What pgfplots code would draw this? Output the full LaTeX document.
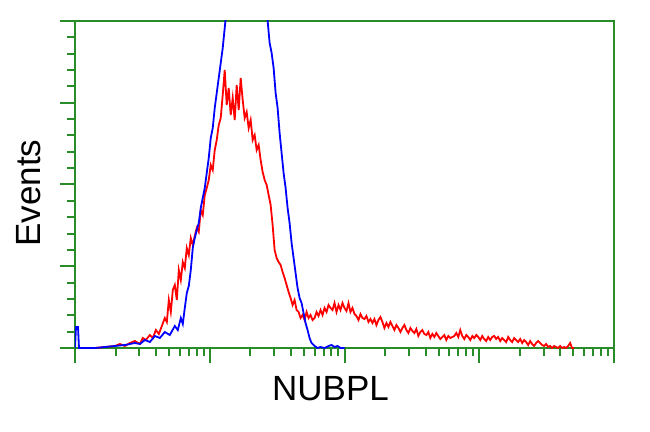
\documentclass[border=0pt]{standalone}
\usepackage{pgfplots}
\pgfplotsset{compat=1.18}
\usepackage{fontspec}
\setmainfont{Liberation Sans}
\definecolor{axgreen}{RGB}{40,140,40}
\begin{document}
\begin{tikzpicture}
\useasboundingbox (-75pt,-83pt) rectangle (575pt,348pt);
\begin{axis}[
  scale only axis, width=539pt, height=327pt,
  xmin=0, xmax=540, ymin=0, ymax=327,
  axis line style={axgreen, line width=2.2pt},
  every tick/.style={axgreen, line width=2pt},
  tick align=outside,
  xtick pos=bottom, ytick pos=left,
  xtick={0,135,270,405,540},
  minor xtick={40.64,64.41,81.28,94.36,105.05,114.08,121.92,128.82,
    175.64,199.41,216.28,229.36,240.05,249.08,256.92,263.82,
    310.64,334.41,351.28,364.36,375.05,384.08,391.92,398.82,
    445.64,469.41,486.28,499.36,510.05,519.08,526.92,533.82},
  ytick={0,81.75,163.5,245.25,327},
  minor y tick num=4,
  major tick length=15pt, minor tick length=7.5pt,
  xticklabels={}, yticklabels={},
  clip=true,
  every axis y label/.style={at={(axis description cs:-0.086,0.474)}, anchor=center, rotate=90, font=\fontsize{35}{40}\selectfont},
  every axis x label/.style={at={(axis description cs:0.474,-0.125)}, anchor=center, font=\fontsize{35}{40}\selectfont},
  ylabel={Events}, xlabel={NUBPL},
]
\addplot[red, line width=1.8pt] coordinates {
(20,0)(30,1)(40,2)(45,4)(50,2)(55,5)(60,7)(65,4)(68,10)(71,8)(75,13)(78,10)(81,18)(84,14)(87,22)(90,30)(92,26)(94,48)(96,36)(98,58)(100,63)(102,48)(104,78)(106,68)(108,86)(110,80)(112,100)(114,93)(116,110)(118,103)(120,112)(122,120)(124,116)(126,138)(128,133)(130,153)(132,160)(134,168)(136,183)(138,178)(140,198)(142,208)(144,223)(146,230)(148,253)(150,278)(152,243)(154,260)(156,233)(158,250)(160,228)(162,263)(164,238)(166,270)(168,248)(170,230)(172,236)(174,220)(176,228)(178,208)(180,213)(182,198)(184,203)(186,188)(188,176)(190,168)(192,163)(194,153)(196,143)(198,123)(200,98)(202,90)(204,86)(206,83)(208,76)(210,70)(212,63)(214,56)(216,50)(218,43)(220,48)(222,38)(224,36)(226,30)(228,33)(230,28)(232,36)(234,30)(236,33)(238,28)(240,30)(242,36)(244,32)(246,38)(248,33)(250,40)(252,36)(254,43)(256,40)(258,38)(260,45)(262,36)(264,43)(266,38)(268,45)(270,40)(272,37)(274,45)(276,36)(278,40)(280,34)(282,32)(284,28)(286,34)(288,30)(290,29)(292,32)(294,26)(296,29)(298,25)(300,29)(302,23)(304,28)(306,31)(308,26)(310,20)(312,25)(314,21)(316,26)(318,22)(320,18)(322,23)(324,20)(326,16)(328,20)(330,23)(332,18)(334,15)(336,20)(338,17)(340,15)(342,19)(344,12)(346,16)(348,18)(350,14)(352,13)(354,16)(356,10)(358,14)(360,11)(362,15)(364,12)(366,9)(368,11)(370,13)(372,8)(374,12)(376,10)(378,11)(380,12)(382,15)(384,11)(386,18)(388,12)(390,9)(392,13)(394,11)(396,8)(398,12)(400,10)(402,13)(404,11)(406,8)(408,12)(410,9)(412,7)(414,11)(416,8)(418,11)(420,12)(422,9)(424,11)(426,7)(428,10)(430,8)(432,6)(434,11)(436,8)(438,6)(440,10)(442,8)(444,6)(446,9)(448,5)(450,8)(452,6)(454,3)(456,7)(458,4)(460,2)(462,5)(464,7)(466,5)(468,3)(470,2)(472,4)(474,1)(476,2)(478,0)(480,2)(482,1)(484,0)(486,2)(488,0)(490,1)(492,0)(494,2)(496,5)(498,0)(500,0)
};
\addplot[blue, line width=1.8pt] coordinates {
(0,0)(1,21)(3,21)(4,0)(20,0)(30,1)(40,2)(50,3)(60,5)(65,4)(70,8)(75,6)(80,12)(85,10)(90,16)(95,13)(100,22)(103,18)(106,30)(108,24)(110,40)(112,55)(114,62)(116,78)(118,100)(120,110)(122,118)(124,125)(126,140)(128,150)(130,160)(132,175)(134,190)(136,210)(138,220)(140,240)(142,255)(144,270)(146,285)(148,300)(150,320)(152,340)(155,360)(160,380)(170,400)(180,420)(188,400)(191,345)(193,327)(195,305)(197,295)(199,280)(201,255)(203,240)(205,215)(207,195)(209,175)(211,160)(213,140)(215,125)(217,105)(219,90)(221,75)(223,60)(225,50)(227,45)(229,35)(231,25)(233,18)(235,10)(237,5)(240,2)(243,0)(246,1)(250,0)(254,2)(257,3)(260,1)(263,2)(266,0)(270,0)
};
\end{axis}
\end{tikzpicture}
\end{document}
